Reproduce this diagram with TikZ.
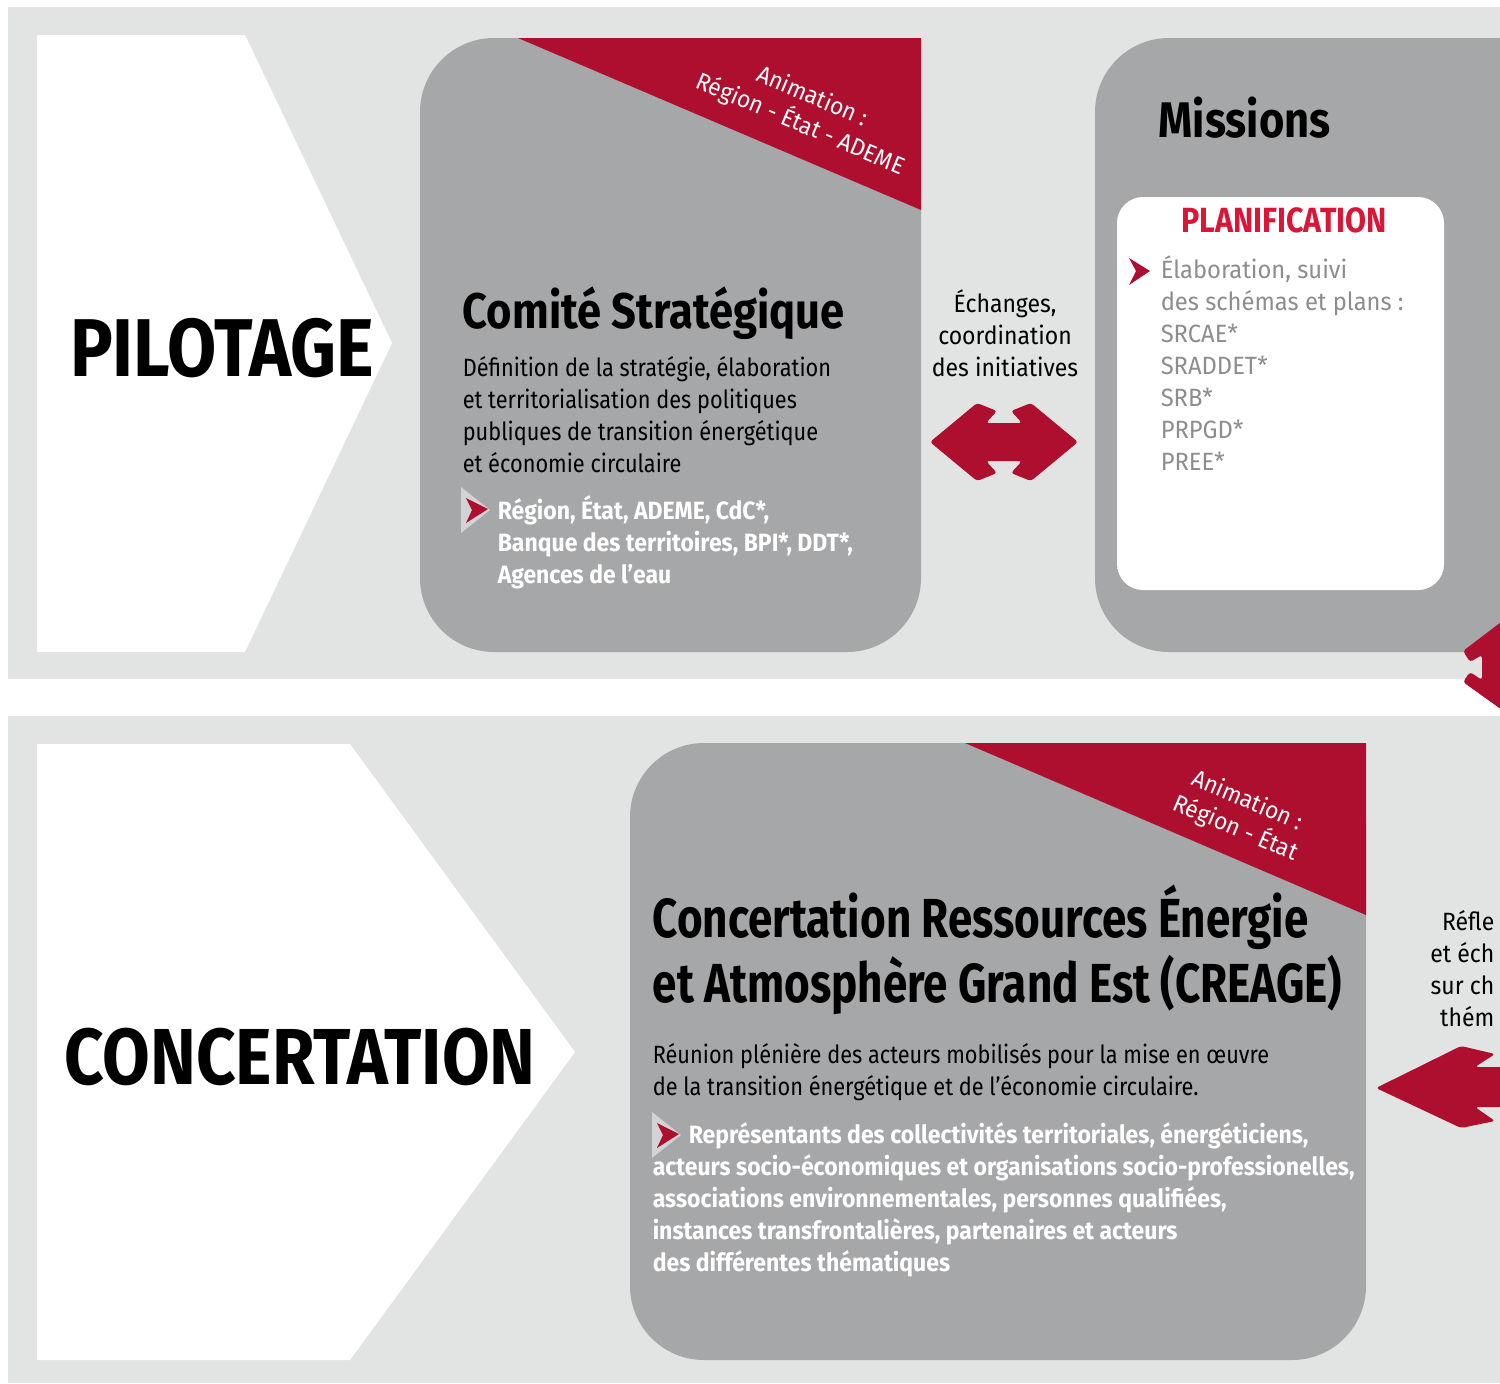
\documentclass[tikz,border=0pt]{standalone}
\usepackage{fontspec}
\setmainfont{Fira Sans}
\newfontfamily\condfont[FakeStretch=0.80]{Fira Sans}
\newfontfamily\midfont[FakeStretch=0.87]{Fira Sans}
\newfontfamily\widefont[FakeStretch=0.92]{Fira Sans}
\newfontfamily\animfont[FakeStretch=0.95]{Fira Sans}
\definecolor{bandgray}{HTML}{E2E4E3}
\definecolor{boxgray}{HTML}{A6A7A9}
\definecolor{arrowred}{HTML}{AE0F2E}
\definecolor{planred}{HTML}{DA1537}
\definecolor{textgray}{HTML}{8C8D8F}
\definecolor{bulletgray}{HTML}{D2D3D4}
\tikzset{every picture/.style={line width=0.75pt},
  bigtitle/.style={inner sep=0pt, font=\midfont\bfseries\fontsize{41}{41}\selectfont},
  boxtitle/.style={anchor=base west, inner sep=0pt, align=left, font=\midfont\bfseries\fontsize{25}{32.5}\selectfont},
  bodytext/.style={anchor=base west, inner sep=0pt, align=left, font=\midfont\fontsize{12.5}{16}\selectfont},
  listtext/.style={anchor=base west, inner sep=0pt, align=left, text=white, font=\widefont\bfseries\fontsize{12.5}{16}\selectfont},
  animtext/.style={inner sep=0pt, align=center, text=white, rotate=-23, font=\animfont\fontsize{12}{15}\selectfont},
  sidetext/.style={inner sep=0pt, align=center, font=\widefont\fontsize{12.5}{16}\selectfont},
}
\begin{document}
\begin{tikzpicture}[x=0.5pt,y=0.5pt,yscale=-1,xscale=1]
	\useasboundingbox (0,0) rectangle (1500,1383);
	\clip (0,0) rectangle (1500,1383);
	
	%Shape: Bands
	\fill[bandgray] (8,7) rectangle (1500,679);
	\fill[bandgray] (8,716) rectangle (1500,1383);
	%Shape: Chevrons
	\fill[white] (37,35) -- (245,35) -- (392,343) -- (245,652) -- (37,652) -- cycle;
	\fill[white] (37,744) -- (350,744) -- (575,1052) -- (350,1360) -- (37,1360) -- cycle;
	
	%Shape: Comite box
	\fill[boxgray, rounded corners=37pt] (420,38) rectangle (921,652);
	\fill[arrowred] (518,38) -- (921,38) -- (921,210) -- cycle;
	%Shape: Missions box
	\fill[boxgray, rounded corners=37pt] (1095,38) rectangle (1600,652);
	\fill[white, rounded corners=13pt] (1117,197) rectangle (1444,590);
	%Shape: CREAGE box
	\fill[boxgray, rounded corners=37pt] (630,743) rectangle (1366,1360);
	\fill[arrowred] (965,743) -- (1366,743) -- (1366,915) -- cycle;
	
	%Shape: Double arrow
	\fill[arrowred, rounded corners=1.5pt, shift={(1004,442)}] (-74,0) -- (-27,-39) -- (-7,-31) -- (-18,-19) -- (18,-19) -- (7,-31) -- (27,-39) -- (74,0) -- (27,39) -- (7,31) -- (18,19) -- (-18,19) -- (-7,31) -- (-27,39) -- cycle;
	%Shape: Vertical arrow (cut by the edge)
	\fill[arrowred, rounded corners=1.5pt] (1530,600) -- (1463,651) -- (1470,662) -- (1482,655) -- (1482,680) -- (1470,672) -- (1463,682) -- (1530,730) -- cycle;
	%Shape: Left arrow (cut by the edge)
	\fill[arrowred, rounded corners=1.5pt] (1376,1088) -- (1461,1046) -- (1495,1054) -- (1475,1067) -- (1530,1067) -- (1530,1107) -- (1475,1107) -- (1495,1121) -- (1461,1128) -- cycle;
	
	%Shape: Bullets
	\fill[bulletgray] (461,487) -- (490,510) -- (461,533) -- cycle;
	\fill[arrowred] (466,498) -- (488,509) -- (466,523) -- (472,510) -- cycle;
	\fill[bulletgray] (652,1112) -- (681,1135) -- (652,1158) -- cycle;
	\fill[arrowred] (657,1123) -- (679,1134) -- (657,1148) -- (663,1135) -- cycle;
	\fill[arrowred] (1129,258) -- (1150,271) -- (1129,285) -- (1136,271) -- cycle;
	
	% Text Node
	\draw (222,348) node [bigtitle] (pilotage) {PILOTAGE};
	% Text Node
	\draw (300,1057) node [bigtitle, font=\midfont\bfseries\fontsize{39.7}{40}\selectfont] (concertation) {CONCERTATION};
	
	% Text Node
	\draw (806,111) node [animtext] (anim1) {Animation :\\Région - État - ADEME};
	% Text Node
	\draw (462,328) node [boxtitle] (comite) {Comité Stratégique};
	% Text Node
	\draw (462,472) node [bodytext] (comitedef) {Définition de la stratégie, élaboration\\et territorialisation des politiques\\publiques de transition énergétique\\et économie circulaire};
	% Text Node
	\draw (497,583) node [listtext] (comitelist) {Région, État, ADEME, CdC*,\\Banque des territoires, BPI*, DDT*,\\Agences de l’eau};
	
	% Text Node
	\draw (1005,333) node [sidetext] (echanges) {Échanges,\\coordination\\des initiatives};
	
	% Text Node
	\draw (1158,137) node [anchor=base west, inner sep=0pt, font=\midfont\bfseries\fontsize{25}{30}\selectfont] (missions) {Missions};
	% Text Node
	\draw (1284,232) node [anchor=base, inner sep=0pt, text=planred, font=\midfont\bfseries\fontsize{17.5}{20}\selectfont] (planif) {PLANIFICATION};
	% Text Node
	\draw (1160,470) node [bodytext, text=textgray, font=\animfont\fontsize{12.5}{16}\selectfont] (planiflist) {Élaboration, suivi\\des schémas et plans :\\SRCAE*\\SRADDET*\\SRB*\\PRPGD*\\PREE*};
	
	% Text Node
	\draw (1241,815) node [animtext] (anim2) {Animation :\\Région - État};
	% Text Node
	\draw (652,1002) node [boxtitle, font=\condfont\bfseries\fontsize{27.5}{32.5}\selectfont] (creage) {Concertation Ressources Énergie\\et Atmosphère Grand Est (CREAGE)};
	% Text Node
	\draw (652,1095) node [bodytext] (creagedef) {Réunion plénière des acteurs mobilisés pour la mise en œuvre\\de la transition énergétique et de l’économie circulaire.};
	% Text Node
	\draw (652,1271) node [listtext] (creagelist) {\hspace*{18pt}Représentants des collectivités territoriales, énergéticiens,\\acteurs socio-économiques et organisations socio-professionelles,\\associations environnementales, personnes qualifiées,\\instances transfrontalières, partenaires et acteurs\\des différentes thématiques};
	
	% Text Node
	\draw (1495,1026) node [anchor=base east, inner sep=0pt, align=right, font=\widefont\fontsize{12.5}{16}\selectfont] (reflexion) {Réfle\\et éch\\sur ch\\thém};
	
\end{tikzpicture}
\end{document}
